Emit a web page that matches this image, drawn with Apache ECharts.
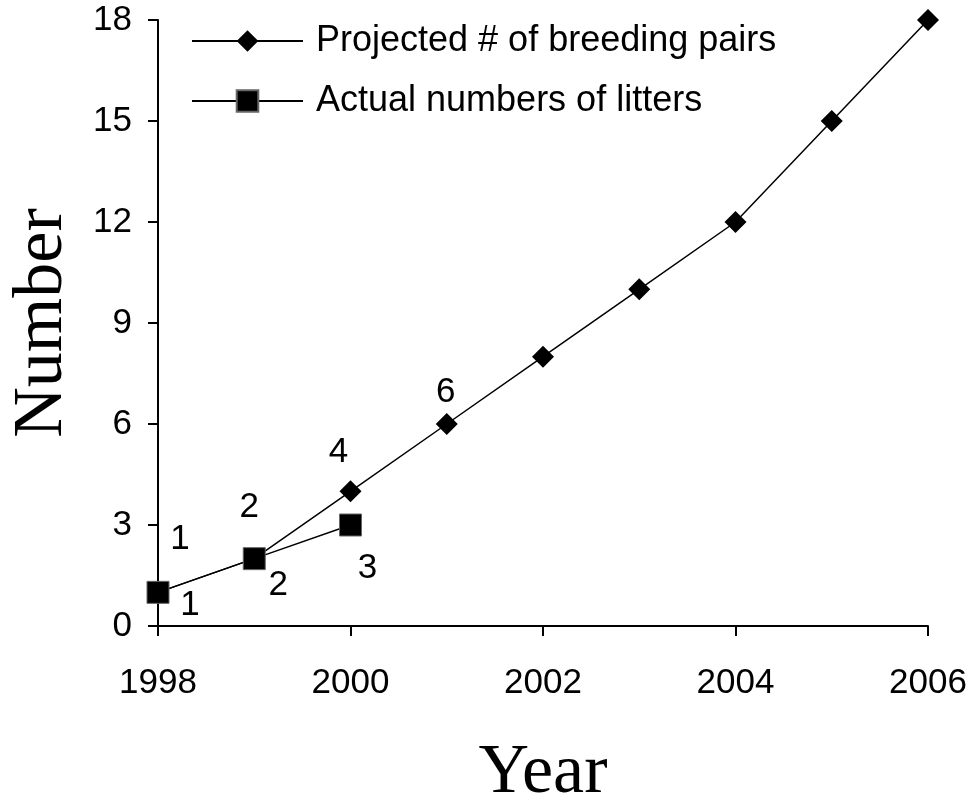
<!DOCTYPE html>
<html>
<head>
<meta charset="utf-8">
<script src="https://cdn.jsdelivr.net/npm/echarts@6/dist/echarts.min.js"></script>
<style>
  html, body { margin: 0; padding: 0; background: #fff; }
  #chart { width: 977px; height: 800px; }
</style>
</head>
<body>
<div id="chart"></div>
<script>
var years = [1998, 1999, 2000, 2001, 2002, 2003, 2004, 2005, 2006];
var projected = [1, 2, 4, 6, 8, 10, 12, 15, 18];
var actualYears = [1998, 1999, 2000];
var actual = [1, 2, 3];
var seriesNames = ['Projected # of breeding pairs', 'Actual numbers of litters'];

// which points get a value label, and where it sits next to the marker
var projLabelOffsets = [[22, -53], [-5, -51], [-12, -39], [-1, -32]];
var actLabelOffsets = [[32, 13], [24, 27], [17, 43]];

function withLabels(xs, ys, offsets) {
    var out = [];
    for (var i = 0; i < xs.length; i++) {
        var item = { value: [xs[i], ys[i]] };
        if (offsets[i]) {
            item.label = {
                show: true,
                position: 'inside',
                offset: offsets[i],
                formatter: String(ys[i]),
                color: '#000',
                fontSize: 35,
                fontFamily: 'Liberation Sans, Arial, sans-serif'
            };
        }
        out.push(item);
    }
    return out;
}

var sans = 'Liberation Sans, Arial, sans-serif';
var serif = 'Liberation Serif, Times New Roman, serif';

var myChart = echarts.init(document.getElementById('chart'));
myChart.setOption({
    animation: false,
    backgroundColor: '#fff',
    grid: { left: 158, right: 49, top: 20, bottom: 174, containLabel: false, outerBoundsMode: 'none' },
    legend: {
        orient: 'vertical',
        left: 191,
        top: 23,
        padding: 0,
        itemWidth: 111,
        itemHeight: 27,
        itemGap: 24,
        textStyle: { fontSize: 36, fontFamily: sans, color: '#000', padding: [0, 0, 0, 8] },
        data: seriesNames
    },
    xAxis: {
        type: 'value',
        min: 1998,
        max: 2006,
        interval: 2,
        name: 'Year',
        nameLocation: 'middle',
        nameGap: 113,
        nameTextStyle: { fontSize: 70, fontFamily: serif, color: '#000' },
        axisLine: { lineStyle: { color: '#000', width: 2 } },
        axisTick: { show: true, length: 10, lineStyle: { color: '#000', width: 2 } },
        axisLabel: {
            margin: 40, fontSize: 35, fontFamily: sans, color: '#000',
            formatter: function (v) { return String(v); }
        },
        splitLine: { show: false }
    },
    yAxis: {
        type: 'value',
        min: 0,
        max: 18,
        interval: 3,
        name: 'Number',
        nameLocation: 'middle',
        nameGap: 80,
        nameTextStyle: { fontSize: 70, fontFamily: serif, color: '#000' },
        axisLine: { show: true, lineStyle: { color: '#000', width: 2 } },
        axisTick: { show: true, length: 10, lineStyle: { color: '#000', width: 2 } },
        axisLabel: { margin: 26, fontSize: 35, fontFamily: sans, color: '#000' },
        splitLine: { show: false }
    },
    series: [
        {
            name: seriesNames[0],
            type: 'line',
            data: withLabels(years, projected, projLabelOffsets),
            symbol: 'diamond',
            symbolSize: 22,
            lineStyle: { color: '#000', width: 1.5 },
            itemStyle: { color: '#000' },
            z: 3
        },
        {
            name: seriesNames[1],
            type: 'line',
            data: withLabels(actualYears, actual, actLabelOffsets),
            symbol: 'rect',
            symbolSize: 22,
            lineStyle: { color: '#000', width: 1.5 },
            itemStyle: { color: '#000', borderColor: '#666', borderWidth: 1 },
            z: 4
        }
    ]
});
</script>
</body>
</html>
